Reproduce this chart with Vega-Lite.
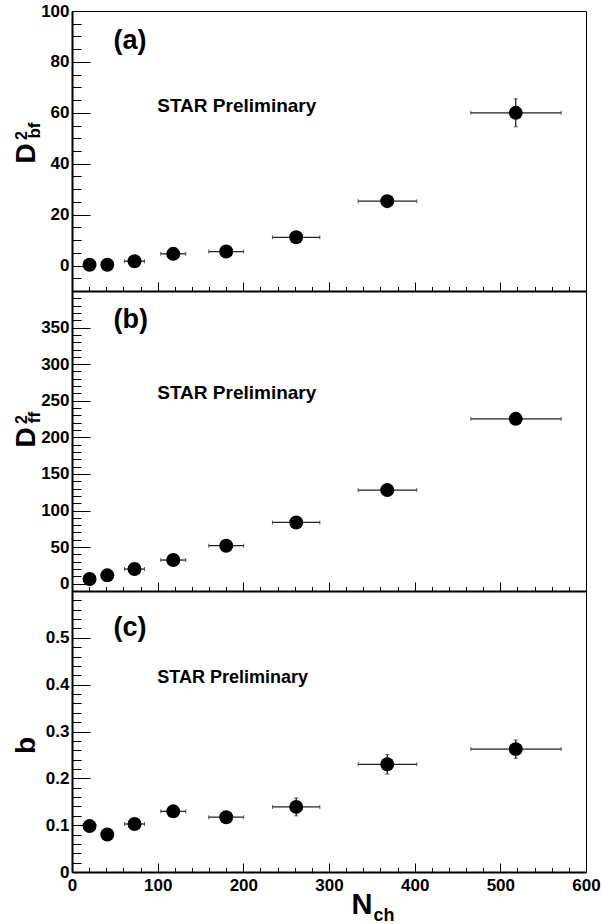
{
  "$schema": "https://vega.github.io/schema/vega-lite/v6.json",
  "background": "white",
  "padding": {"left": 11, "top": 1, "right": 10, "bottom": 0},
  "config": {
    "view": {"stroke": "black", "strokeWidth": 1},
    "font": "Liberation Sans",
    "axis": {"grid": false, "tickColor": "black", "tickWidth": 1, "domainColor": "black", "domainWidth": 2, "labelFont": "Liberation Sans", "labelFontWeight": "bold", "labelColor": "black", "labelFontSize": 17, "labelFlush": false, "labelOverlap": false, "labelBound": false, "titleFont": "Liberation Sans", "titleFontWeight": "bold", "titleColor": "black"}
  },
  "datasets": {
    "pts": [
      {"n": 20.5, "nlo": 16.5, "nhi": 24.5, "dbf": 0.3, "dbflo": 0.0, "dbfhi": 0.6, "dff": 6.4, "dfflo": 5.0, "dffhi": 7.8, "b": 0.098, "blo": 0.094, "bhi": 0.102},
      {"n": 41.2, "nlo": 36.0, "nhi": 46.4, "dbf": 0.3, "dbflo": 0.0, "dbfhi": 0.6, "dff": 11.4, "dfflo": 10.0, "dffhi": 12.8, "b": 0.080, "blo": 0.076, "bhi": 0.084},
      {"n": 73.0, "nlo": 61.3, "nhi": 84.7, "dbf": 1.7, "dbflo": 1.2, "dbfhi": 2.2, "dff": 20.0, "dfflo": 18.5, "dffhi": 21.5, "b": 0.1025, "blo": 0.0955, "bhi": 0.1095},
      {"n": 118.2, "nlo": 103.6, "nhi": 132.8, "dbf": 4.6, "dbflo": 4.0, "dbfhi": 5.2, "dff": 32.3, "dfflo": 30.5, "dffhi": 34.1, "b": 0.1295, "blo": 0.1235, "bhi": 0.1355},
      {"n": 180.0, "nlo": 159.6, "nhi": 200.4, "dbf": 5.5, "dbflo": 4.8, "dbfhi": 6.2, "dff": 51.9, "dfflo": 50.0, "dffhi": 53.8, "b": 0.117, "blo": 0.111, "bhi": 0.123},
      {"n": 261.7, "nlo": 234.0, "nhi": 289.3, "dbf": 11.1, "dbflo": 10.2, "dbfhi": 12.0, "dff": 83.7, "dfflo": 81.5, "dffhi": 85.9, "b": 0.139, "blo": 0.120, "bhi": 0.158},
      {"n": 368.0, "nlo": 334.0, "nhi": 402.5, "dbf": 25.3, "dbflo": 24.0, "dbfhi": 26.6, "dff": 127.9, "dfflo": 125.5, "dffhi": 130.3, "b": 0.230, "blo": 0.209, "bhi": 0.251},
      {"n": 518.0, "nlo": 465.5, "nhi": 571.0, "dbf": 60.0, "dbflo": 54.5, "dbfhi": 65.5, "dff": 225.3, "dfflo": 222.5, "dffhi": 228.1, "b": 0.2624, "blo": 0.2429, "bhi": 0.2819}
    ]
  },
  "vconcat": [
    {
      "width": 514, "height": 280,
      "resolve": {"axis": {"x": "independent", "y": "independent"}},
      "layer": [
        {
          "data": {"name": "pts"},
          "mark": {"type": "rule", "color": "#222", "strokeWidth": 1.3},
          "encoding": {
            "x": {"field": "nlo", "type": "quantitative", "scale": {"domain": [0, 600], "nice": false, "zero": false},
              "axis": {"orient": "bottom", "values": [0, 100, 200, 300, 400, 500, 600], "tickSize": -9, "labels": false, "domain": true, "title": null}},
            "x2": {"field": "nhi"},
            "y": {"field": "dbf", "type": "quantitative", "scale": {"domain": [-10, 100], "nice": false, "zero": false},
              "axis": {"orient": "left", "values": [0, 20, 40, 60, 80, 100], "tickSize": -18, "labels": false, "domain": true, "title": "D", "titleFontSize": 28, "titleAngle": -90, "titleX": -38, "titleY": 142, "titleAlign": "center", "titleBaseline": "alphabetic"}}
          }
        },
        {
          "data": {"name": "pts"},
          "mark": {"type": "tick", "orient": "vertical", "color": "#222", "size": 4, "thickness": 1},
          "encoding": {
            "x": {"field": "nlo", "type": "quantitative", "scale": {"domain": [0, 600], "nice": false, "zero": false},
              "axis": {"orient": "bottom", "values": [0, 20, 40, 60, 80, 100, 120, 140, 160, 180, 200, 220, 240, 260, 280, 300, 320, 340, 360, 380, 400, 420, 440, 460, 480, 500, 520, 540, 560, 580, 600], "tickSize": -4.5, "labels": false, "domain": false, "title": null}},
            "y": {"field": "dbf", "type": "quantitative", "scale": {"domain": [-10, 100], "nice": false, "zero": false},
              "axis": {"orient": "left", "values": [-10, -5, 0, 5, 10, 15, 20, 25, 30, 35, 40, 45, 50, 55, 60, 65, 70, 75, 80, 85, 90, 95, 100], "tickSize": -9, "labels": false, "domain": false, "title": "2", "titleFontSize": 16, "titleAngle": -90, "titleX": -46, "titleY": 124, "titleAlign": "center", "titleBaseline": "alphabetic"}}
          }
        },
        {
          "data": {"name": "pts"},
          "mark": {"type": "tick", "orient": "vertical", "color": "#222", "size": 4, "thickness": 1},
          "encoding": {
            "x": {"field": "nhi", "type": "quantitative", "scale": {"domain": [0, 600], "nice": false, "zero": false}, "axis": null},
            "y": {"field": "dbf", "type": "quantitative", "scale": {"domain": [-10, 100], "nice": false, "zero": false},
              "axis": {"orient": "left", "values": [0, 20, 40, 60, 80, 100], "ticks": false, "labels": true, "labelPadding": 3, "domain": false, "title": "bf", "titleFontSize": 17, "titleAngle": -90, "titleX": -33, "titleY": 119, "titleAlign": "center", "titleBaseline": "alphabetic"}}
          }
        },
        {
          "data": {"name": "pts"},
          "mark": {"type": "rule", "color": "#222", "strokeWidth": 1.3},
          "encoding": {
            "x": {"field": "n", "type": "quantitative", "scale": {"domain": [0, 600], "nice": false, "zero": false}, "axis": null},
            "y": {"field": "dbflo", "type": "quantitative", "scale": {"domain": [-10, 100], "nice": false, "zero": false}, "axis": null},
            "y2": {"field": "dbfhi"}
          }
        },
        {
          "data": {"name": "pts"},
          "mark": {"type": "tick", "orient": "horizontal", "color": "#222", "size": 4, "thickness": 1},
          "encoding": {
            "x": {"field": "n", "type": "quantitative", "scale": {"domain": [0, 600], "nice": false, "zero": false}, "axis": null},
            "y": {"field": "dbflo", "type": "quantitative", "scale": {"domain": [-10, 100], "nice": false, "zero": false}, "axis": null}
          }
        },
        {
          "data": {"name": "pts"},
          "mark": {"type": "tick", "orient": "horizontal", "color": "#222", "size": 4, "thickness": 1},
          "encoding": {
            "x": {"field": "n", "type": "quantitative", "scale": {"domain": [0, 600], "nice": false, "zero": false}, "axis": null},
            "y": {"field": "dbfhi", "type": "quantitative", "scale": {"domain": [-10, 100], "nice": false, "zero": false}, "axis": null}
          }
        },
        {
          "data": {"name": "pts"},
          "mark": {"type": "circle", "color": "black", "opacity": 1, "size": 195},
          "encoding": {
            "x": {"field": "n", "type": "quantitative", "scale": {"domain": [0, 600], "nice": false, "zero": false}, "axis": null},
            "y": {"field": "dbf", "type": "quantitative", "scale": {"domain": [-10, 100], "nice": false, "zero": false}, "axis": null}
          }
        },
        {
          "data": {"values": [{}]},
          "mark": {"type": "text", "text": "(a)", "font": "Liberation Sans", "fontWeight": "bold", "fontSize": 27, "align": "left", "baseline": "middle", "color": "black"},
          "encoding": {
            "x": {"datum": 48.5, "type": "quantitative", "scale": {"domain": [0, 600], "nice": false, "zero": false}, "axis": null},
            "y": {"datum": 88.2, "type": "quantitative", "scale": {"domain": [-10, 100], "nice": false, "zero": false}, "axis": null}
          }
        },
        {
          "data": {"values": [{}]},
          "mark": {"type": "text", "text": "STAR Preliminary", "font": "Liberation Sans", "fontWeight": "bold", "fontSize": 19, "align": "left", "baseline": "middle", "color": "black"},
          "encoding": {
            "x": {"datum": 99.5, "type": "quantitative", "scale": {"domain": [0, 600], "nice": false, "zero": false}, "axis": null},
            "y": {"datum": 62.6, "type": "quantitative", "scale": {"domain": [-10, 100], "nice": false, "zero": false}, "axis": null}
          }
        }
      ]
    },
    {
      "width": 514, "height": 300,
      "resolve": {"axis": {"x": "independent", "y": "independent"}},
      "layer": [
        {
          "data": {"name": "pts"},
          "mark": {"type": "rule", "color": "#222", "strokeWidth": 1.3},
          "encoding": {
            "x": {"field": "nlo", "type": "quantitative", "scale": {"domain": [0, 600], "nice": false, "zero": false},
              "axis": {"orient": "bottom", "values": [0, 100, 200, 300, 400, 500, 600], "tickSize": -9, "labels": false, "domain": true, "title": null}},
            "x2": {"field": "nhi"},
            "y": {"field": "dff", "type": "quantitative", "scale": {"domain": [-10, 400], "nice": false, "zero": false},
              "axis": {"orient": "left", "values": [0, 50, 100, 150, 200, 250, 300, 350, 400], "tickSize": -18, "labels": false, "domain": true, "title": "D", "titleFontSize": 28, "titleAngle": -90, "titleX": -38, "titleY": 146, "titleAlign": "center", "titleBaseline": "alphabetic"}}
          }
        },
        {
          "data": {"name": "pts"},
          "mark": {"type": "tick", "orient": "vertical", "color": "#222", "size": 4, "thickness": 1},
          "encoding": {
            "x": {"field": "nlo", "type": "quantitative", "scale": {"domain": [0, 600], "nice": false, "zero": false},
              "axis": {"orient": "bottom", "values": [0, 20, 40, 60, 80, 100, 120, 140, 160, 180, 200, 220, 240, 260, 280, 300, 320, 340, 360, 380, 400, 420, 440, 460, 480, 500, 520, 540, 560, 580, 600], "tickSize": -4.5, "labels": false, "domain": false, "title": null}},
            "y": {"field": "dff", "type": "quantitative", "scale": {"domain": [-10, 400], "nice": false, "zero": false},
              "axis": {"orient": "left", "values": [-10, 0, 10, 20, 30, 40, 50, 60, 70, 80, 90, 100, 110, 120, 130, 140, 150, 160, 170, 180, 190, 200, 210, 220, 230, 240, 250, 260, 270, 280, 290, 300, 310, 320, 330, 340, 350, 360, 370, 380, 390, 400], "tickSize": -9, "labels": false, "domain": false, "title": "2", "titleFontSize": 16, "titleAngle": -90, "titleX": -46, "titleY": 128, "titleAlign": "center", "titleBaseline": "alphabetic"}}
          }
        },
        {
          "data": {"name": "pts"},
          "mark": {"type": "tick", "orient": "vertical", "color": "#222", "size": 4, "thickness": 1},
          "encoding": {
            "x": {"field": "nhi", "type": "quantitative", "scale": {"domain": [0, 600], "nice": false, "zero": false}, "axis": null},
            "y": {"field": "dff", "type": "quantitative", "scale": {"domain": [-10, 400], "nice": false, "zero": false},
              "axis": {"orient": "left", "values": [0, 50, 100, 150, 200, 250, 300, 350], "ticks": false, "labels": true, "labelPadding": 3, "domain": false, "title": "ff", "titleFontSize": 17, "titleAngle": -90, "titleX": -33, "titleY": 126, "titleAlign": "center", "titleBaseline": "alphabetic"}}
          }
        },
        {
          "data": {"name": "pts"},
          "mark": {"type": "rule", "color": "#222", "strokeWidth": 1.3},
          "encoding": {
            "x": {"field": "n", "type": "quantitative", "scale": {"domain": [0, 600], "nice": false, "zero": false}, "axis": null},
            "y": {"field": "dfflo", "type": "quantitative", "scale": {"domain": [-10, 400], "nice": false, "zero": false}, "axis": null},
            "y2": {"field": "dffhi"}
          }
        },
        {
          "data": {"name": "pts"},
          "mark": {"type": "circle", "color": "black", "opacity": 1, "size": 195},
          "encoding": {
            "x": {"field": "n", "type": "quantitative", "scale": {"domain": [0, 600], "nice": false, "zero": false}, "axis": null},
            "y": {"field": "dff", "type": "quantitative", "scale": {"domain": [-10, 400], "nice": false, "zero": false}, "axis": null}
          }
        },
        {
          "data": {"values": [{}]},
          "mark": {"type": "text", "text": "(b)", "font": "Liberation Sans", "fontWeight": "bold", "fontSize": 27, "align": "left", "baseline": "middle", "color": "black"},
          "encoding": {
            "x": {"datum": 48.5, "type": "quantitative", "scale": {"domain": [0, 600], "nice": false, "zero": false}, "axis": null},
            "y": {"datum": 360, "type": "quantitative", "scale": {"domain": [-10, 400], "nice": false, "zero": false}, "axis": null}
          }
        },
        {
          "data": {"values": [{}]},
          "mark": {"type": "text", "text": "STAR Preliminary", "font": "Liberation Sans", "fontWeight": "bold", "fontSize": 19, "align": "left", "baseline": "middle", "color": "black"},
          "encoding": {
            "x": {"datum": 99.5, "type": "quantitative", "scale": {"domain": [0, 600], "nice": false, "zero": false}, "axis": null},
            "y": {"datum": 260.8, "type": "quantitative", "scale": {"domain": [-10, 400], "nice": false, "zero": false}, "axis": null}
          }
        }
      ]
    },
    {
      "width": 514, "height": 281,
      "resolve": {"axis": {"x": "independent", "y": "independent"}},
      "layer": [
        {
          "data": {"name": "pts"},
          "mark": {"type": "rule", "color": "#222", "strokeWidth": 1.3},
          "encoding": {
            "x": {"field": "nlo", "type": "quantitative", "scale": {"domain": [0, 600], "nice": false, "zero": false},
              "axis": {"orient": "bottom", "values": [0, 100, 200, 300, 400, 500, 600], "tickSize": -9, "labels": false, "domain": true, "title": "N", "titleFontSize": 29, "titleX": 279, "titleY": 41, "titleAlign": "left", "titleBaseline": "alphabetic"}},
            "x2": {"field": "nhi"},
            "y": {"field": "b", "type": "quantitative", "scale": {"domain": [0, 0.6], "nice": false, "zero": false},
              "axis": {"orient": "left", "values": [0, 0.1, 0.2, 0.3, 0.4, 0.5, 0.6], "tickSize": -18, "labels": false, "domain": true, "title": "b", "titleFontSize": 28, "titleAngle": -90, "titleX": -38, "titleY": 154, "titleAlign": "center", "titleBaseline": "alphabetic"}}
          }
        },
        {
          "data": {"name": "pts"},
          "mark": {"type": "tick", "orient": "vertical", "color": "#222", "size": 4, "thickness": 1},
          "encoding": {
            "x": {"field": "nlo", "type": "quantitative", "scale": {"domain": [0, 600], "nice": false, "zero": false},
              "axis": {"orient": "bottom", "values": [0, 20, 40, 60, 80, 100, 120, 140, 160, 180, 200, 220, 240, 260, 280, 300, 320, 340, 360, 380, 400, 420, 440, 460, 480, 500, 520, 540, 560, 580, 600], "tickSize": -4.5, "labels": false, "domain": false, "title": "ch", "titleFontSize": 18, "titleX": 301, "titleY": 48, "titleAlign": "left", "titleBaseline": "alphabetic"}},
            "y": {"field": "b", "type": "quantitative", "scale": {"domain": [0, 0.6], "nice": false, "zero": false},
              "axis": {"orient": "left", "values": [0, 0.02, 0.04, 0.06, 0.08, 0.1, 0.12, 0.14, 0.16, 0.18, 0.2, 0.22, 0.24, 0.26, 0.28, 0.3, 0.32, 0.34, 0.36, 0.38, 0.4, 0.42, 0.44, 0.46, 0.48, 0.5, 0.52, 0.54, 0.56, 0.58, 0.6], "tickSize": -9, "labels": false, "domain": false, "title": null}}
          }
        },
        {
          "data": {"name": "pts"},
          "mark": {"type": "tick", "orient": "vertical", "color": "#222", "size": 4, "thickness": 1},
          "encoding": {
            "x": {"field": "nhi", "type": "quantitative", "scale": {"domain": [0, 600], "nice": false, "zero": false},
              "axis": {"orient": "bottom", "values": [0, 100, 200, 300, 400, 500, 600], "ticks": false, "labels": true, "labelPadding": 5, "domain": false, "title": null}},
            "y": {"field": "b", "type": "quantitative", "scale": {"domain": [0, 0.6], "nice": false, "zero": false},
              "axis": {"orient": "left", "values": [0, 0.1, 0.2, 0.3, 0.4, 0.5], "format": "~g", "ticks": false, "labels": true, "labelPadding": 3, "domain": false, "title": null}}
          }
        },
        {
          "data": {"name": "pts"},
          "mark": {"type": "rule", "color": "#222", "strokeWidth": 1.3},
          "encoding": {
            "x": {"field": "n", "type": "quantitative", "scale": {"domain": [0, 600], "nice": false, "zero": false}, "axis": null},
            "y": {"field": "blo", "type": "quantitative", "scale": {"domain": [0, 0.6], "nice": false, "zero": false}, "axis": null},
            "y2": {"field": "bhi"}
          }
        },
        {
          "data": {"name": "pts"},
          "mark": {"type": "tick", "orient": "horizontal", "color": "#222", "size": 4, "thickness": 1},
          "encoding": {
            "x": {"field": "n", "type": "quantitative", "scale": {"domain": [0, 600], "nice": false, "zero": false}, "axis": null},
            "y": {"field": "blo", "type": "quantitative", "scale": {"domain": [0, 0.6], "nice": false, "zero": false}, "axis": null}
          }
        },
        {
          "data": {"name": "pts"},
          "mark": {"type": "tick", "orient": "horizontal", "color": "#222", "size": 4, "thickness": 1},
          "encoding": {
            "x": {"field": "n", "type": "quantitative", "scale": {"domain": [0, 600], "nice": false, "zero": false}, "axis": null},
            "y": {"field": "bhi", "type": "quantitative", "scale": {"domain": [0, 0.6], "nice": false, "zero": false}, "axis": null}
          }
        },
        {
          "data": {"name": "pts"},
          "mark": {"type": "circle", "color": "black", "opacity": 1, "size": 195},
          "encoding": {
            "x": {"field": "n", "type": "quantitative", "scale": {"domain": [0, 600], "nice": false, "zero": false}, "axis": null},
            "y": {"field": "b", "type": "quantitative", "scale": {"domain": [0, 0.6], "nice": false, "zero": false}, "axis": null}
          }
        },
        {
          "data": {"values": [{}]},
          "mark": {"type": "text", "text": "(c)", "font": "Liberation Sans", "fontWeight": "bold", "fontSize": 27, "align": "left", "baseline": "middle", "color": "black"},
          "encoding": {
            "x": {"datum": 48.5, "type": "quantitative", "scale": {"domain": [0, 600], "nice": false, "zero": false}, "axis": null},
            "y": {"datum": 0.52, "type": "quantitative", "scale": {"domain": [0, 0.6], "nice": false, "zero": false}, "axis": null}
          }
        },
        {
          "data": {"values": [{}]},
          "mark": {"type": "text", "text": "STAR Preliminary", "font": "Liberation Sans", "fontWeight": "bold", "fontSize": 18, "align": "left", "baseline": "middle", "color": "black"},
          "encoding": {
            "x": {"datum": 99.5, "type": "quantitative", "scale": {"domain": [0, 600], "nice": false, "zero": false}, "axis": null},
            "y": {"datum": 0.4135, "type": "quantitative", "scale": {"domain": [0, 0.6], "nice": false, "zero": false}, "axis": null}
          }
        }
      ]
    }
  ],
  "spacing": 0,
  "bounds": "flush"
}
